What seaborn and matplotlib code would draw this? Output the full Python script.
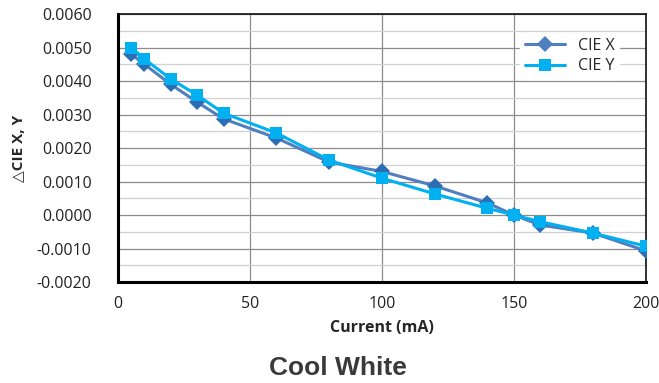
import numpy as np
import pandas as pd
import matplotlib.pyplot as plt
import seaborn as sns
from matplotlib.ticker import MultipleLocator, FormatStrFormatter

corriente = [5, 10, 20, 30, 40, 60, 80, 100, 120, 140, 150, 160, 180, 200]
cie_x = [0.0048, 0.0045, 0.0039, 0.00337, 0.00287, 0.0023, 0.00158, 0.0013,
         0.00087, 0.00036, 0.0, -0.0003, -0.00054, -0.00107]
cie_y = [0.0050, 0.00466, 0.00406, 0.00358, 0.00304, 0.00245, 0.00164, 0.0011,
         0.00063, 0.0002, 0.0, -0.0002, -0.00054, -0.00093]

df = pd.DataFrame({'Current': corriente * 2,
                   'valor': cie_x + cie_y,
                   'serie': ['CIE X'] * len(corriente) + ['CIE Y'] * len(corriente)})

sns.set_style('white')
plt.rcParams['font.family'] = ['Open Sans', 'DejaVu Sans']

fig = plt.figure(figsize=(6.59, 3.83), dpi=100)
ax = fig.add_axes([0.179, 0.2637, 0.801, 0.6997])

sns.lineplot(data=df, x='Current', y='valor', hue='serie', style='serie',
             palette={'CIE X': '#4F7FBF', 'CIE Y': '#00B0F0'},
             markers={'CIE X': 'D', 'CIE Y': 's'}, dashes=False,
             linewidth=2.2, markersize=8, markeredgewidth=0, ax=ax, zorder=3)
# marcador X un poco mas oscuro
ax.lines[0].set_markerfacecolor('#2E6DB4')

ax.set_xlim(0, 200)
ax.set_ylim(-0.002, 0.006)
ax.xaxis.set_major_locator(MultipleLocator(50))
ax.yaxis.set_major_locator(MultipleLocator(0.001))
ax.yaxis.set_minor_locator(MultipleLocator(0.0005))
ax.yaxis.set_major_formatter(FormatStrFormatter('%.4f'))
ax.grid(which='major', color='#8C8C8C', linewidth=0.9)
ax.grid(which='minor', axis='y', color='#D0D0D0', linewidth=0.9)
ax.set_axisbelow(True)
ax.tick_params(axis='both', which='both', length=0, labelsize=11.5, colors='#222222')
ax.tick_params(axis='x', pad=10)
ax.tick_params(axis='y', pad=19)

for lado in ['top', 'right']:
    ax.spines[lado].set_linewidth(1.2)
    ax.spines[lado].set_color('#111111')
for lado in ['left', 'bottom']:
    ax.spines[lado].set_linewidth(2.2)
    ax.spines[lado].set_color('black')

ax.set_xlabel('Current (mA)', fontsize=11.5, fontweight='bold', labelpad=6)
ax.set_ylabel('△CIE X, Y', fontsize=11, fontweight='bold', labelpad=8)

leg = ax.legend(loc='upper right', bbox_to_anchor=(0.965, 0.96), frameon=True,
                fontsize=11.5, handlelength=2.5, borderpad=0.3, labelspacing=0.3)
leg.get_frame().set_edgecolor('white')
leg.get_frame().set_alpha(1)
leg.set_title(None)

fig.text(0.513, 0.02, 'Cool White', ha='center', fontsize=19, fontweight='bold',
         color='#3A3A3A', family=['Liberation Sans', 'DejaVu Sans'])

plt.savefig('out.png', dpi=100)
